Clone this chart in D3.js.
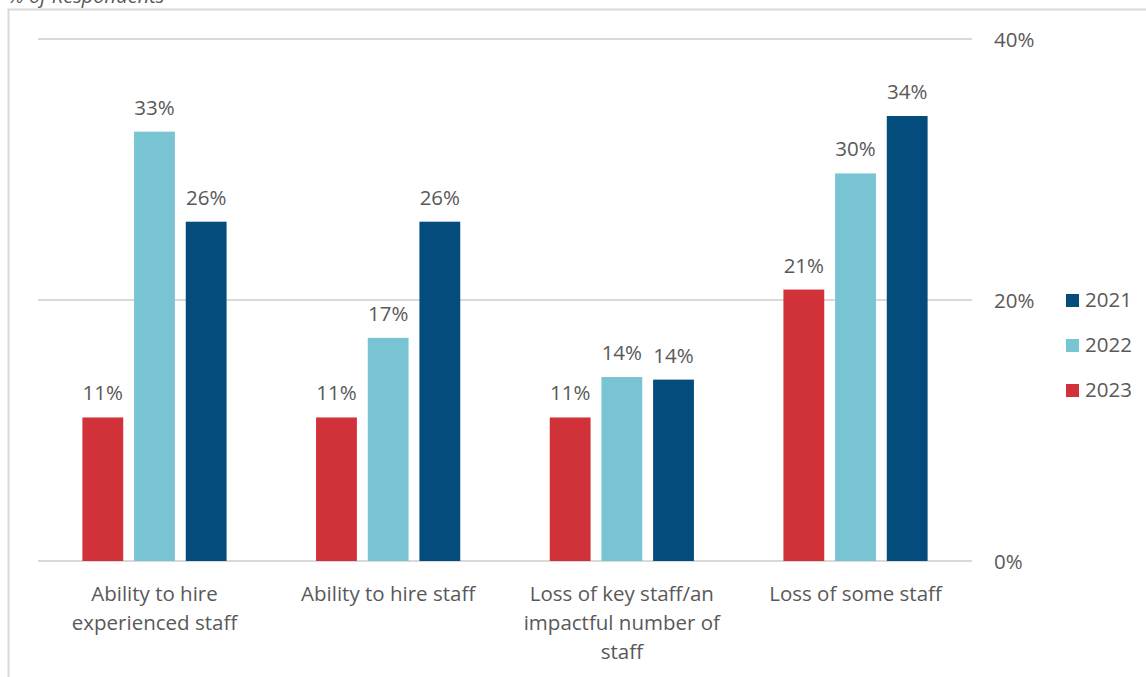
<!DOCTYPE html>
<html><head><meta charset="utf-8">
<script src="https://cdn.jsdelivr.net/npm/d3@7"></script>
<style>body{margin:0;background:#fff;} svg{display:block;}</style>
</head><body>
<svg id="chart" width="1146" height="677"></svg>
<script>
const categories = [
  ["Ability to hire", "experienced staff"],
  ["Ability to hire staff"],
  ["Loss of key staff/an", "impactful number of", "staff"],
  ["Loss of some staff"]
];
const seriesNames = ["2023", "2022", "2021"];
const values2023 = [11.0, 11.0, 11.0, 20.8];
const values2022 = [32.9, 17.1, 14.1, 29.7];
const values2021 = [26.0, 26.0, 13.9, 34.1];
const yTicks = [0, 20, 40];
const legendOrder = ["2021", "2022", "2023"];
const colors = {"2023": "#D13239", "2022": "#78C4D3", "2021": "#044C7B"};

const seriesValues = {"2023": values2023, "2022": values2022, "2021": values2021};
const svg = d3.select("#chart");
const font = "'Open Sans', sans-serif";
const fs = 20.5;
const textColor = "#595959";

// frame
svg.append("rect").attr("x", 8.5).attr("y", 9.5).attr("width", 1150).attr("height", 700)
  .attr("fill", "none").attr("stroke", "#d9d9d9").attr("stroke-width", 2);

svg.append("text").attr("x", 8).attr("y", 3).attr("font-family", font)
  .attr("font-style", "italic").attr("font-size", 20).attr("fill", textColor)
  .text("% of Respondents");

const catIdx = d3.range(categories.length);
const x0 = d3.scaleBand().domain(catIdx).range([38, 972]).paddingInner(0.383).paddingOuter(0.19);
const x1 = d3.scaleBand().domain(seriesNames).range([0, x0.bandwidth()]).paddingInner(0.21).paddingOuter(0);
const y = d3.scaleLinear().domain([0, 40]).range([561, 39]);

// grid
svg.append("g").selectAll("line").data(yTicks).join("line")
  .attr("x1", 38).attr("x2", 972).attr("y1", d => y(d)).attr("y2", d => y(d))
  .attr("stroke", "#d9d9d9").attr("stroke-width", 2);

// right axis labels
const yAxis = d3.axisRight(y).tickValues(yTicks).tickSize(0).tickPadding(0).tickFormat(d => d + "%");
const ga = svg.append("g").attr("transform", "translate(994,0)").call(yAxis);
ga.select(".domain").remove();
ga.selectAll("text").attr("font-family", font).attr("font-size", fs).attr("fill", textColor).attr("dy", "0.35em");

// bars
const groups = svg.append("g").selectAll("g").data(catIdx).join("g")
  .attr("transform", i => `translate(${x0(i)},0)`);
groups.selectAll("rect").data(i => seriesNames.map(s => ({s, v: seriesValues[s][i]}))).join("rect")
  .attr("x", d => x1(d.s)).attr("width", x1.bandwidth())
  .attr("y", d => y(d.v)).attr("height", d => y(0) - y(d.v))
  .attr("fill", d => colors[d.s]);
groups.selectAll("text.val").data(i => seriesNames.map(s => ({s, v: seriesValues[s][i]}))).join("text")
  .attr("class", "val")
  .attr("x", d => x1(d.s) + x1.bandwidth() / 2).attr("y", d => y(d.v) - 17)
  .attr("text-anchor", "middle").attr("font-family", font).attr("font-size", fs).attr("fill", textColor)
  .text(d => Math.round(d.v) + "%");

// category labels
const cl = svg.append("g").selectAll("text").data(catIdx).join("text")
  .attr("x", i => x0(i) + x0.bandwidth() / 2).attr("y", 601)
  .attr("text-anchor", "middle").attr("font-family", font).attr("font-size", fs).attr("fill", textColor);
cl.selectAll("tspan").data(i => categories[i].map(t => ({t, x: x0(i) + x0.bandwidth() / 2}))).join("tspan")
  .attr("x", d => d.x).attr("dy", (d, j) => j === 0 ? 0 : 29).text(d => d.t);

// legend
const lg = svg.append("g").selectAll("g").data(legendOrder).join("g")
  .attr("transform", (d, i) => `translate(1066,${300 + i * 45})`);
lg.append("rect").attr("x", 0).attr("y", -6).attr("width", 13).attr("height", 13).attr("fill", d => colors[d]);
lg.append("text").attr("x", 19).attr("y", 0).attr("dy", "0.35em").attr("font-family", font)
  .attr("font-size", fs).attr("fill", textColor).text(d => d);
</script>
</body></html>
